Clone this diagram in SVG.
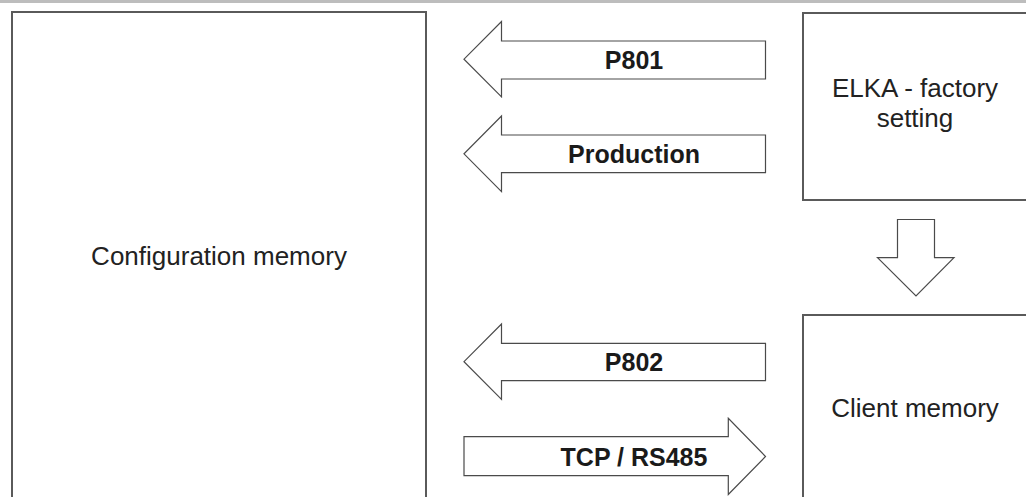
<svg xmlns="http://www.w3.org/2000/svg" width="1026" height="497" viewBox="0 0 1026 497">
  <style>
    .box { fill: #ffffff; stroke: #5a5a5a; stroke-width: 2; }
    .arrow { fill: #ffffff; stroke: #4a4a4a; stroke-width: 1.2; stroke-linejoin: miter; }
    .lbl { font-family: "Liberation Sans", Arial, sans-serif; font-size: 26px; fill: #222222; text-anchor: middle; }
    .alb { font-family: "Liberation Sans", Arial, sans-serif; font-size: 25px; font-weight: bold; fill: #1a1a1a; text-anchor: middle; }
  </style>
  <rect x="0" y="0" width="1026" height="497" fill="#ffffff"/>
  <rect x="0" y="0" width="1026" height="3" fill="#bdbdbd"/>

  <g id="config-memory">
    <rect class="box" x="12" y="12" width="414" height="500"/>
    <text class="lbl" x="219" y="265">Configuration memory</text>
  </g>

  <g id="elka-factory">
    <rect class="box" x="803" y="13" width="240" height="187"/>
    <text class="lbl" x="915" y="97">ELKA - factory</text>
    <text class="lbl" x="915" y="127">setting</text>
  </g>

  <g id="client-memory">
    <rect class="box" x="803" y="315" width="240" height="200"/>
    <text class="lbl" x="915" y="417">Client memory</text>
  </g>

  <g id="connectors">
    <g id="arrow-p801">
      <path class="arrow" d="M765.5,41 L501.5,41 L501.5,21.5 L464,59.2 L501.5,96.8 L501.5,79 L765.5,79 Z"/>
      <text class="alb" x="634" y="69">P801</text>
    </g>
    <g id="arrow-production">
      <path class="arrow" d="M765.5,135 L501.5,135 L501.5,116 L464,153.8 L501.5,191.6 L501.5,172.6 L765.5,172.6 Z"/>
      <text class="alb" x="634" y="163">Production</text>
    </g>
    <g id="arrow-down">
      <path class="arrow" d="M897.5,219.5 L934.5,219.5 L934.5,257.7 L954,257.7 L916,296 L877.5,257.7 L897.5,257.7 Z"/>
    </g>
    <g id="arrow-p802">
      <path class="arrow" d="M765.5,343.3 L501.5,343.3 L501.5,324 L464,361.7 L501.5,399.4 L501.5,380.7 L765.5,380.7 Z"/>
      <text class="alb" x="634" y="371">P802</text>
    </g>
    <g id="arrow-tcp">
      <path class="arrow" d="M464,436.7 L728.3,436.7 L728.3,418.3 L765.5,456.5 L728.3,494.5 L728.3,475.7 L464,475.7 Z"/>
      <text class="alb" x="634" y="466">TCP / RS485</text>
    </g>
  </g>
</svg>
